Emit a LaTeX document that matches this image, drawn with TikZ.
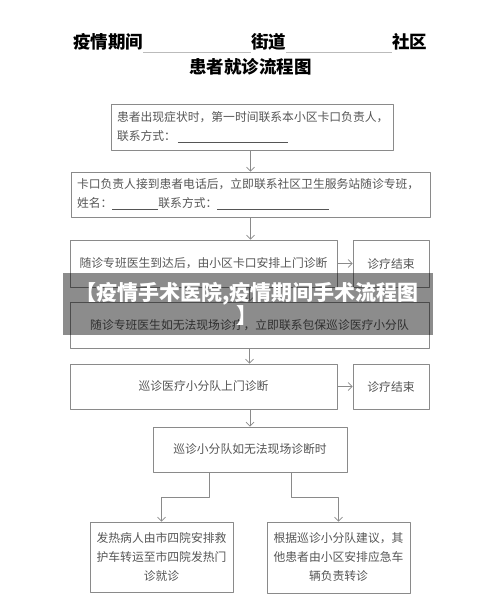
\documentclass[tikz,border=0pt]{standalone}
\usepackage{fontspec}
\newfontfamily\cjk{Noto Sans CJK SC}
\usetikzlibrary{arrows.meta,calc}
\definecolor{boxgray}{HTML}{8A8A8A}
\definecolor{textgray}{HTML}{555555}
\definecolor{linegray}{HTML}{BBBBBB}
\newcommand\blank[1]{\rule[-2pt]{#1}{0.5pt}}
\tikzset{
  box/.style={draw=boxgray, line width=0.7pt, inner xsep=6pt, inner ysep=0pt,
    text=textgray, font=\cjk\fontsize{11.8}{19}\selectfont, align=center},
  arr/.style={draw=boxgray, line width=0.7pt, -{Straight Barb[length=4pt,width=8pt]}},
  head/.style={font=\cjk\bfseries\fontsize{17.5}{20}\selectfont, text=black, inner sep=0pt},
  headline/.style={draw=linegray, line width=0.6pt},
  wmtext/.style={font=\cjk\bfseries\fontsize{21}{23}\selectfont, text=white, align=center, inner sep=0pt},
}
\begin{document}
\begin{tikzpicture}[x=1pt, y=-1pt, line join=round]
	% Page frame
	\useasboundingbox (0,0) rectangle (500,609);
	
	% Header
	\node[head] (h1) at (108,42) {疫情期间};
	\node[head] (h2) at (268.5,42) {街道};
	\node[head] (h3) at (409.5,42) {社区};
	\node[head] (title) at (250.5,67) {患者就诊流程图};
	\coordinate (hl) at (0,52); % Height of the blanks
	\draw[headline] (h1.east |- hl) -- (h2.west |- hl);
	\draw[headline] (h2.east |- hl) -- (h3.west |- hl);
	
	% Main steps
	\node[box, text width=270pt, minimum height=46pt, align=left] (b1) at (252,127)
		{患者出现症状时，第一时间联系本小区卡口负责人，\\联系方式：\,\blank{110pt}};
	\node[box, text width=347pt, minimum height=45pt, align=left] (b2) at (250.5,194.5)
		{卡口负责人接到患者电话后，立即联系社区卫生服务站随诊专班，\\姓名：\blank{46pt}联系方式：\blank{112pt}};
	\node[box, minimum width=267pt, minimum height=47pt] (b3) at (203.5,263.5)
		{随诊专班医生到达后，由小区卡口安排上门诊断};
	\node[box, minimum width=76pt, minimum height=47pt] (e1) at (391,263.5) {诊疗结束};
	\node[box, minimum width=359pt, minimum height=46pt] (b4) at (249.5,325)
		{随诊专班医生如无法现场诊疗，立即联系包保巡诊医疗小分队};
	\node[box, minimum width=267pt, minimum height=45pt] (b5) at (203.5,386.5)
		{巡诊医疗小分队上门诊断};
	\node[box, minimum width=76pt, minimum height=45pt] (e2) at (391,386.5) {诊疗结束};
	\node[box, minimum width=194pt, minimum height=45pt] (b6) at (250,449.5)
		{巡诊小分队如无法现场诊断时};
	
	% Two outcomes
	\node[box, text width=131pt, minimum height=70pt] (b7) at (161.5,557)
		{发热病人由市四院安排救\\护车转运至市四院发热门\\诊就诊};
	\node[box, text width=131pt, minimum height=71pt] (b8) at (338.5,557.5)
		{根据巡诊小分队建议，其\\他患者由小区安排应急车\\辆负责转诊};
	
	% Arrows
	\draw[arr] (b2.north |- b1.south) -- (b2.north);
	\draw[arr] (b2.south) -- (b2.south |- b3.north);
	\draw[arr] (b3.east) -- (e1.west);
	\draw[arr] (b4.north |- b3.south) -- (b4.north);
	\draw[arr] (b4.south) -- (b4.south |- b5.north);
	\draw[arr] (b5.east) -- (e2.west);
	\draw[arr] (b6.north |- b5.south) -- (b6.north);
	
	% Branches below the last step
	\coordinate (sl) at (209,497);
	\coordinate (sr) at (291,497);
	\draw[arr] (sl |- b6.south) -- (sl) -| (b7.north);
	\draw[arr] (sr |- b6.south) -- (sr) -| (b8.north);
	
	% Caption band laid over the chart
	\fill[black, opacity=0.45] (63,273) rectangle (433,335);
	\node[wmtext] (wm) at (247,303.5) {【疫情手术医院,疫情期间手术流程图\\】};
	
\end{tikzpicture}
\end{document}
